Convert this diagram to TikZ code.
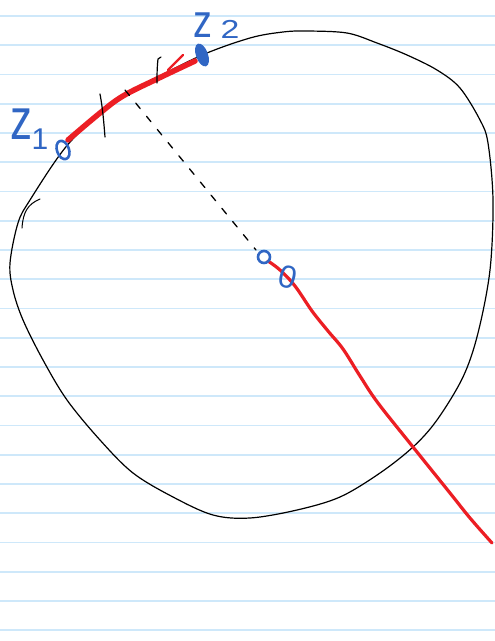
\documentclass[tikz,border=0pt]{standalone}
\usepackage{fontspec}
\setmainfont{Liberation Sans}
\usepackage{graphicx}
\definecolor{ruling}{RGB}{206,232,250}
\definecolor{inkblue}{RGB}{48,102,196}
\definecolor{inkred}{RGB}{236,30,36}
\tikzset{
  ruleline/.style={draw=ruling, line width=1.6pt},
  pen/.style={draw=black, line width=1.2pt, line cap=round, line join=round},
  redpen/.style={draw=inkred, line cap=round, line join=round},
  bluepen/.style={draw=inkblue, line width=2.6pt, line cap=round},
  lbl/.style={text=inkblue, inner sep=0pt, font=\fontsize{40}{40}\selectfont}
}
\begin{document}
\begin{tikzpicture}[x=1pt,y=-1pt]
\useasboundingbox (0,0) rectangle (495,641);
\fill[white] (0,0) rectangle (495,641);
% ruled paper
\foreach \k in {0,...,21} {
  \draw[ruleline] (0,{16+29.25*\k}) -- (495,{16+29.25*\k});
}
% named points
\coordinate (z1) at (63,150);
\coordinate (z2) at (202,55);
\coordinate (O) at (264,257);
% the closed curve
\draw[pen] plot[smooth cycle, tension=0.55] coordinates {
  (30,200) (65,148) (100,114) (140,87) (200,56) (250,38) (283,32) (307,31)
  (347,33) (377,43) (407,55) (437,70) (460,88) (480,120) (488,143) (493,200)
  (490,270) (478,333) (463,377) (437,420) (413,447) (380,473) (340,497)
  (297,510) (250,518) (213,515) (173,497) (133,473) (100,440) (67,400)
  (43,360) (23,320) (13,290) (10,263) (18,223)};
\draw[pen, line width=1pt] (22,228) .. controls (23,212) and (28,204) .. (40,199);
% red arc between z1 and z2
\draw[redpen, line width=5.5pt] plot[smooth, tension=0.6] coordinates {
  (68,140) (100,113) (123,96) (157,79) (195,61)};
\draw[redpen, line width=2.2pt] (183,55) -- (168,70);
% ticks
\draw[pen] (100,94) .. controls (103,110) and (104,125) .. (105,137);
\draw[pen] (161,57) -- (158,59) .. controls (157,68) and (157,76) .. (157,83);
% dashed radius
\draw[pen, line width=1.3pt, dash pattern=on 7pt off 10pt] (125,90) -- (256,250);
% red ray from centre
\draw[redpen, line width=3.2pt] plot[smooth, tension=0.6] coordinates {
  (268,261) (280,270) (295,286) (312,311) (328,331) (343,349)
  (360,376) (378,403) (413,447) (450,493) (470,518) (492,543)};
% blue points
\draw[bluepen] (z1) ellipse [x radius=6, y radius=9.5, rotate=20];
\fill[inkblue, rotate around={20:(z2)}] (z2) ellipse [x radius=6, y radius=12];
\draw[bluepen] (O) circle [radius=6];
% labels
\node[lbl] (lz1) at (21,124) {\scalebox{1.1}[1.45]{z}};
\node[lbl, font=\fontsize{30}{30}\selectfont] (l1) at (40,139) {1};
\node[lbl, font=\fontsize{36}{36}\selectfont] (lz2) at (203,25) {\scalebox{1.05}[1.3]{z}};
\node[lbl, font=\fontsize{26}{26}\selectfont] (l2) at (230,29) {\scalebox{1.3}[1]{2}};
\node[lbl, font=\fontsize{32}{32}\selectfont, rotate=-15] (l0) at (288,277) {0};
\end{tikzpicture}
\end{document}
